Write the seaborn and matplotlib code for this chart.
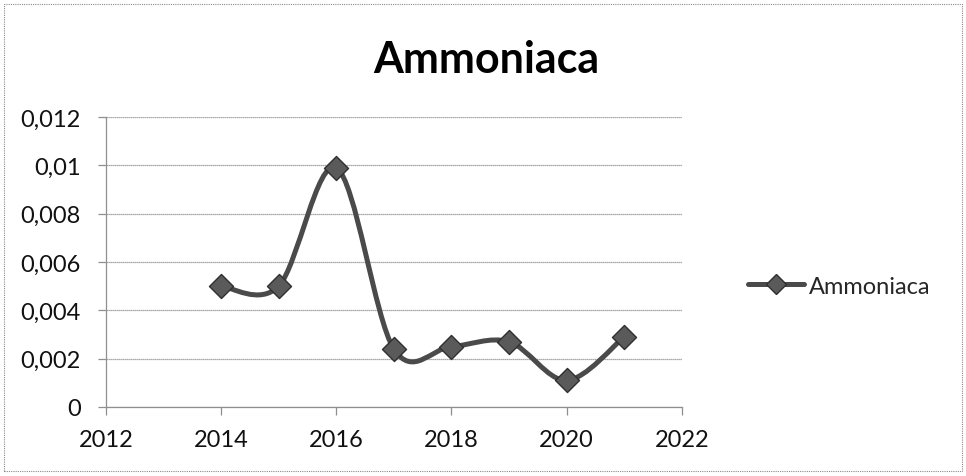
import numpy as np
import pandas as pd
import matplotlib
matplotlib.use("Agg")
import matplotlib.pyplot as plt
from matplotlib.path import Path
from matplotlib.patches import PathPatch, Rectangle
from matplotlib.ticker import FuncFormatter, MultipleLocator
from matplotlib.lines import Line2D
import seaborn as sns

# ── data ─────────────────────────────────────────────────────────
years = [2014, 2015, 2016, 2017, 2018, 2019, 2020, 2021]
ammoniaca = [0.0050, 0.0050, 0.0099, 0.0024, 0.0025, 0.0027, 0.0011, 0.0029]
series_name = "Ammoniaca"

df = pd.DataFrame({"anno": years, "valore": ammoniaca})

sns.set_style("white")
plt.rcParams["font.family"] = ["Lato", "DejaVu Sans"]

LINE_COL = "#4a4a4a"
GRID_COL = "#8f8f8f"

fig = plt.figure(figsize=(9.66, 4.77), dpi=100)
ax = fig.add_axes([0.1097, 0.1447, 0.596, 0.6079])

# smoothed line (Excel-style Catmull-Rom bezier through the points)
x = np.asarray(years, dtype=float)
y = np.asarray(ammoniaca, dtype=float)
verts = [(x[0], y[0])]
codes = [Path.MOVETO]
for i in range(len(x) - 1):
    p0 = (x[i - 1], y[i - 1]) if i > 0 else (x[i], y[i])
    p3 = (x[i + 2], y[i + 2]) if i + 2 < len(x) else (x[i + 1], y[i + 1])
    c1 = (x[i] + (x[i + 1] - p0[0]) / 6, y[i] + (y[i + 1] - p0[1]) / 6)
    c2 = (x[i + 1] - (p3[0] - x[i]) / 6, y[i + 1] - (p3[1] - y[i]) / 6)
    verts += [c1, c2, (x[i + 1], y[i + 1])]
    codes += [Path.CURVE4] * 3
ax.add_patch(PathPatch(Path(verts, codes), fill=False, edgecolor=LINE_COL,
                       linewidth=3.6, capstyle="round", joinstyle="round", zorder=3))

# markers
sns.scatterplot(data=df, x="anno", y="valore", marker="D", s=150,
                color="#5a5a5a", edgecolor="#2f2f2f", linewidth=1.0,
                ax=ax, zorder=4, legend=False)

ax.set_xlim(2012, 2022)
ax.set_ylim(0, 0.012)
ax.xaxis.set_major_locator(MultipleLocator(2))
ax.yaxis.set_major_locator(MultipleLocator(0.002))
ax.yaxis.set_major_formatter(FuncFormatter(lambda v, p: f"{v:g}".replace(".", ",")))
ax.set_xlabel("")
ax.set_ylabel("")

ax.grid(axis="y", color=GRID_COL, linewidth=0.9, linestyle=(0, (1, 0.6)))
ax.set_axisbelow(True)
for s in ["top", "right"]:
    ax.spines[s].set_visible(False)
for s in ["left", "bottom"]:
    ax.spines[s].set_color(GRID_COL)
    ax.spines[s].set_linewidth(0.9)
ax.tick_params(axis="both", which="major", labelsize=17, colors=GRID_COL,
               labelcolor="#111111", length=6, width=0.9, direction="out",
               bottom=True, left=True)
ax.tick_params(axis="y", pad=12)
ax.tick_params(axis="x", pad=10)

fig.text(0.503, 0.874, "Ammoniaca", ha="center", va="center",
         fontsize=31, fontweight="bold", color="#000000")

handle = Line2D([], [], color=LINE_COL, linewidth=3.6, marker="D",
                markersize=10, markerfacecolor="#5a5a5a", markeredgecolor="#2f2f2f")
fig.legend([handle], [series_name], loc="center left", bbox_to_anchor=(0.752, 0.398),
           frameon=False, fontsize=17, handlelength=2.4, handletextpad=0.2)

# chart-area border
fig.add_artist(Rectangle((0.004, 0.01), 0.992, 0.98, transform=fig.transFigure,
                         fill=False, edgecolor="#8a8a8a", linewidth=0.8,
                         linestyle=(0, (1, 1))))

fig.savefig("out.png", dpi=100)
